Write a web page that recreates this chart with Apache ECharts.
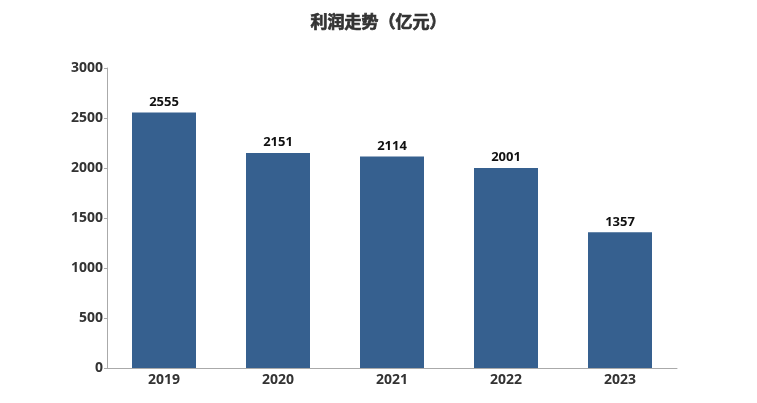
<!DOCTYPE html>
<html lang="zh">
<head>
    <meta charset="UTF-8">
    <title>利润走势</title>
    <script src="https://cdn.jsdelivr.net/npm/echarts@6/dist/echarts.min.js"></script>
    <style>
        html, body { margin: 0; padding: 0; background: #ffffff; }
        #chart { width: 757px; height: 403px; }
    </style>
</head>
<body>
<div id="chart"></div>
<script>
    var years = ['2019', '2020', '2021', '2022', '2023'];
    var profit = [2555, 2151, 2114, 2001, 1357];
    var yTicks = { min: 0, max: 3000, interval: 500 };

    var font = '"Open Sans", "Noto Sans CJK SC", sans-serif';

    var option = {
        title: {
            text: '利润走势（亿元）',
            left: 'center',
            top: 8,
            textStyle: {
                fontFamily: '"Noto Sans CJK SC", sans-serif', fontSize: 17, fontWeight: 'bold', color: '#333',
                textBorderColor: '#333', textBorderWidth: 0.7
            }
        },
        grid: { left: 107, right: 80, top: 68, bottom: 35 },
        xAxis: {
            type: 'category',
            data: years,
            axisLine: { lineStyle: { color: '#aaa' } },
            axisTick: { alignWithLabel: true, length: 3, lineStyle: { color: '#aaa' } },
            axisLabel: { fontFamily: font, fontSize: 14, fontWeight: 'bold', color: '#333', margin: 5 }
        },
        yAxis: {
            type: 'value',
            min: yTicks.min,
            max: yTicks.max,
            interval: yTicks.interval,
            splitLine: { show: false },
            axisLine: { show: true, lineStyle: { color: '#aaa' } },
            axisTick: { show: true, length: 3, lineStyle: { color: '#aaa' } },
            axisLabel: {
                formatter: function (v) { return String(v); },
                fontFamily: font, fontSize: 14, fontWeight: 'bold', color: '#333', margin: 4
            }
        },
        series: [{
            type: 'bar',
            data: profit,
            barWidth: 64,
            itemStyle: { color: '#36608f' },
            label: {
                show: true,
                position: 'top',
                distance: 4,
                fontFamily: font,
                fontSize: 13,
                fontWeight: 'bold',
                color: '#111'
            }
        }]
    };
    echarts.init(document.getElementById('chart')).setOption(option);
</script>
</body>
</html>
